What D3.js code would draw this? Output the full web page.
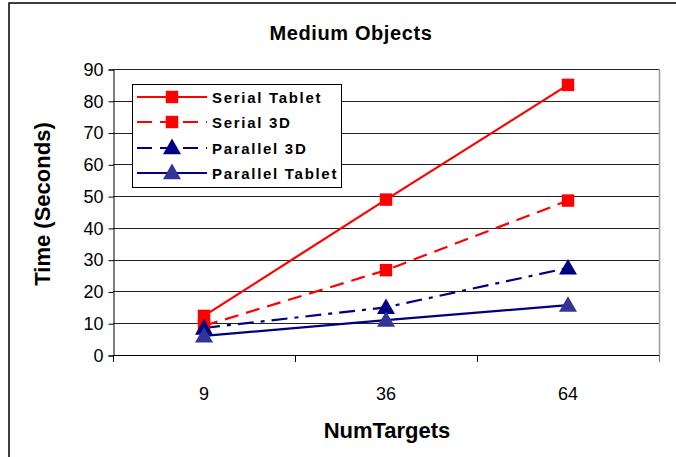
<!DOCTYPE html>
<html>
<head>
<meta charset="utf-8">
<script src="https://cdn.jsdelivr.net/npm/d3@7"></script>
<style>
  html, body { margin: 0; padding: 0; background: #fff; }
  svg { display: block; font-family: Arial, "Liberation Sans", sans-serif; }
</style>
</head>
<body>
<svg id="chart" width="676" height="457"></svg>
<script>
// Chart data
const categories = ["9", "36", "64"];
const seriesNames = ["Serial Tablet", "Serial 3D", "Parallel 3D", "Parallel Tablet"];
const serialTablet = [12.3, 48.9, 85.0];
const serial3D = [9.2, 26.7, 48.6];
const parallel3D = [8.5, 15.0, 27.4];
const parallelTablet = [6.0, 11.0, 15.7];
const yTicks = [0, 10, 20, 30, 40, 50, 60, 70, 80, 90];

const series = [
  { name: seriesNames[0], values: serialTablet, line: "#ff0000", fill: "#ff0000", dash: null, marker: "square" },
  { name: seriesNames[1], values: serial3D, line: "#ff0000", fill: "#ff0000", dash: "14,8", marker: "square" },
  { name: seriesNames[2], values: parallel3D, line: "#000080", fill: "#000080", dash: "16,7,4,7", marker: "triangle" },
  { name: seriesNames[3], values: parallelTablet, line: "#000080", fill: "#333399", dash: null, marker: "triangle" }
];

const svg = d3.select("#chart");

// outer chart frame (runs past the right and bottom edges)
svg.append("rect")
  .attr("x", 9).attr("y", 3).attr("width", 680).attr("height", 470)
  .attr("fill", "none").attr("stroke", "#000").attr("stroke-width", 1.5);

const plot = { left: 113, right: 659, top: 69, bottom: 355 };

const x = d3.scaleBand().domain(categories).range([plot.left, plot.right]).paddingInner(0).paddingOuter(0);
const y = d3.scaleLinear().domain([0, 90]).range([plot.bottom, plot.top]);

// horizontal gridlines
svg.append("g").selectAll("line").data(yTicks.filter(d => d > 0)).join("line")
  .attr("x1", plot.left).attr("x2", plot.right)
  .attr("y1", d => Math.round(y(d)) + 0.5).attr("y2", d => Math.round(y(d)) + 0.5)
  .attr("stroke", "#222").attr("stroke-width", 1);

// right plot edge
svg.append("line")
  .attr("x1", plot.right + 0.5).attr("x2", plot.right + 0.5)
  .attr("y1", plot.top).attr("y2", plot.bottom)
  .attr("stroke", "#9a9a9a").attr("stroke-width", 1.5);

// y axis
const yAxis = d3.axisLeft(y).tickValues(yTicks).tickSize(5).tickPadding(5);
const gy = svg.append("g").attr("transform", `translate(${plot.left + 0.5},0.5)`).call(yAxis);
gy.select(".domain").attr("stroke", "#000");
gy.selectAll(".tick line").attr("stroke", "#000");
gy.selectAll(".tick text").attr("font-size", 18).attr("fill", "#000")
  .attr("font-family", "Arial, 'Liberation Sans', sans-serif");

// x axis: category labels centred in bands, tick marks on band edges
svg.append("line")
  .attr("x1", plot.left).attr("x2", plot.right + 1)
  .attr("y1", plot.bottom + 0.5).attr("y2", plot.bottom + 0.5)
  .attr("stroke", "#000");
const edges = categories.map(c => x(c)).concat([x(categories[categories.length - 1]) + x.bandwidth()]);
svg.append("g").selectAll("line").data(edges).join("line")
  .attr("x1", d => Math.round(d) + 0.5).attr("x2", d => Math.round(d) + 0.5)
  .attr("y1", plot.bottom).attr("y2", plot.bottom + 7)
  .attr("stroke", d => d === edges[edges.length - 1] ? "#777" : "#000");
svg.append("g").selectAll("text").data(categories).join("text")
  .attr("x", d => x(d) + x.bandwidth() / 2)
  .attr("y", 400)
  .attr("text-anchor", "middle")
  .attr("font-size", 18)
  .text(d => d);

// lines
const line = d3.line()
  .x((d, i) => x(categories[i]) + x.bandwidth() / 2)
  .y(d => y(d));

svg.append("g").selectAll("path").data(series).join("path")
  .attr("d", s => line(s.values))
  .attr("fill", "none")
  .attr("stroke", s => s.line)
  .attr("stroke-width", 2.2)
  .attr("stroke-dasharray", s => s.dash);

// markers
const sq = d3.symbol().type(d3.symbolSquare).size(155);
const tri = d3.symbol().type(d3.symbolTriangle).size(140);
function markerPath(s) { return s.marker === "square" ? sq() : tri(); }

series.forEach(s => {
  svg.append("g").selectAll("path").data(s.values).join("path")
    .attr("d", markerPath(s))
    .attr("transform", (d, i) => `translate(${x(categories[i]) + x.bandwidth() / 2},${y(d) + (s.marker === "triangle" ? 1.5 : 0)})`)
    .attr("fill", s.fill);
});

// title and axis titles
svg.append("text")
  .attr("x", 351).attr("y", 40)
  .attr("text-anchor", "middle")
  .attr("font-size", 20).attr("font-weight", "bold")
  .attr("letter-spacing", 0.6)
  .text("Medium Objects");

svg.append("text")
  .attr("x", 387).attr("y", 438)
  .attr("text-anchor", "middle")
  .attr("font-size", 22).attr("font-weight", "bold")
  .text("NumTargets");

svg.append("text")
  .attr("transform", "translate(50,204) rotate(-90)")
  .attr("text-anchor", "middle")
  .attr("font-size", 22).attr("font-weight", "bold")
  .text("Time (Seconds)");

// legend
const legend = svg.append("g");
legend.append("rect")
  .attr("x", 132.5).attr("y", 84.5).attr("width", 209).attr("height", 103)
  .attr("fill", "#fff").attr("stroke", "#000").attr("stroke-width", 1);

const legendRows = [97, 122, 148, 173];
series.forEach((s, i) => {
  const yy = legendRows[i];
  legend.append("line")
    .attr("x1", 137).attr("x2", 207).attr("y1", yy).attr("y2", yy)
    .attr("stroke", s.line).attr("stroke-width", 2.2)
    .attr("stroke-dasharray", s.dash ? "15,8" : null);
  legend.append("path")
    .attr("d", markerPath(s))
    .attr("transform", `translate(172,${yy + (s.marker === "triangle" ? 1 : 0)})`)
    .attr("fill", s.fill);
  legend.append("text")
    .attr("x", 212).attr("y", yy + 5.5)
    .attr("font-size", 15).attr("font-weight", "bold")
    .attr("letter-spacing", 1.7)
    .text(s.name);
});
</script>
</body>
</html>
